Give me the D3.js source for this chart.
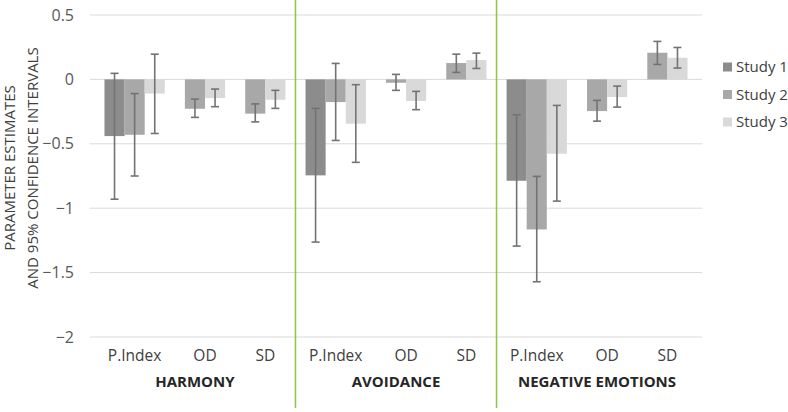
<!DOCTYPE html>
<html><head><meta charset="utf-8">
<script src="https://cdn.jsdelivr.net/npm/d3@7"></script>
<style>body{margin:0;background:#fff}svg{display:block}text{font-family:"Open Sans",sans-serif}</style>
</head><body><svg id="c" width="788" height="412"></svg>
<script>
const groups = ["HARMONY", "AVOIDANCE", "NEGATIVE EMOTIONS"];
const categories = ["P.Index", "OD", "SD"];
const studies = ["Study 1", "Study 2", "Study 3"];
const colors = ["#8c8c8c", "#a8a8a8", "#d9d9d9"];
const yTicks = [0.5, 0, -0.5, -1, -1.5, -2];
// values in order: group x category (HARMONY P.Index, OD, SD, AVOIDANCE ..., NEG ...)
const study1 = [-0.44, null, null, -0.745, null, null, -0.787, null, null];
const study2 = [-0.43, -0.228, -0.266, -0.176, -0.026, 0.127, -1.165, -0.246, 0.207];
const study3 = [-0.11, -0.145, -0.158, -0.344, -0.168, 0.15, -0.577, -0.137, 0.168];
const study1Lo = [-0.93, null, null, -1.263, null, null, -1.294, null, null];
const study1Hi = [0.047, null, null, -0.225, null, null, -0.274, null, null];
const study2Lo = [-0.75, -0.295, -0.33, -0.474, -0.085, 0.054, -1.571, -0.324, 0.116];
const study2Hi = [-0.11, -0.153, -0.19, 0.124, 0.039, 0.196, -0.753, -0.163, 0.295];
const study3Lo = [-0.42, -0.212, -0.225, -0.644, -0.235, 0.085, -0.945, -0.215, 0.088];
const study3Hi = [0.196, -0.075, -0.085, -0.041, -0.093, 0.204, -0.202, -0.052, 0.248];

const vals = [study1, study2, study3], los = [study1Lo, study2Lo, study3Lo], his = [study1Hi, study2Hi, study3Hi];
const rows = [];
groups.forEach((g, gi) => categories.forEach((c, ci) => studies.forEach((s, si) => {
  const i = gi * 3 + ci;
  if (vals[si][i] != null) rows.push({g, c, s, si, v: vals[si][i], lo: los[si][i], hi: his[si][i]});
})));

const svg = d3.select("#c");
const left = 90, right = 702;
const y = d3.scaleLinear().domain([-2, 0.5]).range([337, 15]);
const xg = d3.scaleBand().domain(groups).range([left, right]).paddingInner(0).paddingOuter(0.022);
const xc = d3.scaleBand().domain(categories).range([0, xg.bandwidth()]).paddingInner(0).paddingOuter(1/6);
const xs = d3.scaleBand().domain(studies).range([0, xc.bandwidth()]).padding(0);

// gridlines
svg.append("g").selectAll("line").data(yTicks).join("line")
  .attr("x1", left).attr("x2", right).attr("y1", d => y(d)).attr("y2", d => y(d))
  .attr("stroke", "#d9d9d9").attr("stroke-width", 1);
svg.append("g").selectAll("text").data(yTicks).join("text")
  .attr("x", 74).attr("y", d => y(d)).attr("dy", "0.35em").attr("text-anchor", "end")
  .attr("font-size", 16).attr("fill", "#595959").text(d => d3.format("")(d));

const bx = d => xg(d.g) + xc(d.c) + xs(d.s);
svg.append("g").selectAll("rect").data(rows).join("rect")
  .attr("x", bx).attr("width", xs.bandwidth())
  .attr("y", d => y(Math.max(0, d.v))).attr("height", d => Math.abs(y(d.v) - y(0)))
  .attr("fill", d => colors[d.si]);

const eb = svg.append("g").attr("stroke", "#737373").attr("stroke-width", 1.6);
rows.forEach(d => {
  const cx = bx(d) + xs.bandwidth() / 2;
  eb.append("line").attr("x1", cx).attr("x2", cx).attr("y1", y(d.hi)).attr("y2", y(d.lo));
  [d.hi, d.lo].forEach(v => eb.append("line").attr("x1", cx - 4).attr("x2", cx + 4).attr("y1", y(v)).attr("y2", y(v)));
});

// separators
svg.append("g").selectAll("line").data(groups.slice(1)).join("line")
  .attr("x1", d => xg(d)).attr("x2", d => xg(d)).attr("y1", 0).attr("y2", 408)
  .attr("stroke", "#8dc63f").attr("stroke-width", 1.5);

// category labels: centred under drawn bars
groups.forEach(g => categories.forEach(c => {
  const rs = rows.filter(r => r.g === g && r.c === c);
  const cx = d3.mean(rs, r => bx(r) + xs.bandwidth() / 2);
  svg.append("text").attr("x", cx).attr("y", 361).attr("text-anchor", "middle")
    .attr("font-size", 15.5).attr("fill", "#404040").text(c);
}));
svg.append("g").selectAll("text").data(groups).join("text")
  .attr("x", d => xg(d) + xg.bandwidth() / 2).attr("y", 387).attr("text-anchor", "middle")
  .attr("font-size", 15).attr("font-weight", "bold").attr("fill", "#262626").text(d => d);

// y title
const t = svg.append("text").attr("transform", "translate(0,168) rotate(-90)")
  .attr("text-anchor", "middle").attr("font-size", 15).attr("fill", "#404040");
t.append("tspan").attr("x", 0).attr("y", 15).text("PARAMETER ESTIMATES");
t.append("tspan").attr("x", 0).attr("y", 38).text("AND 95% CONFIDENCE INTERVALS");

// legend
const lg = svg.append("g").selectAll("g").data(studies).join("g")
  .attr("transform", (d, i) => `translate(723,${67 + i * 27.5})`);
lg.append("rect").attr("x", 0).attr("y", -4.5).attr("width", 9).attr("height", 9).attr("fill", (d, i) => colors[i]);
lg.append("text").attr("x", 13).attr("y", 0).attr("dy", "0.35em").attr("font-size", 15).attr("fill", "#404040").text(d => d);
</script></body></html>
